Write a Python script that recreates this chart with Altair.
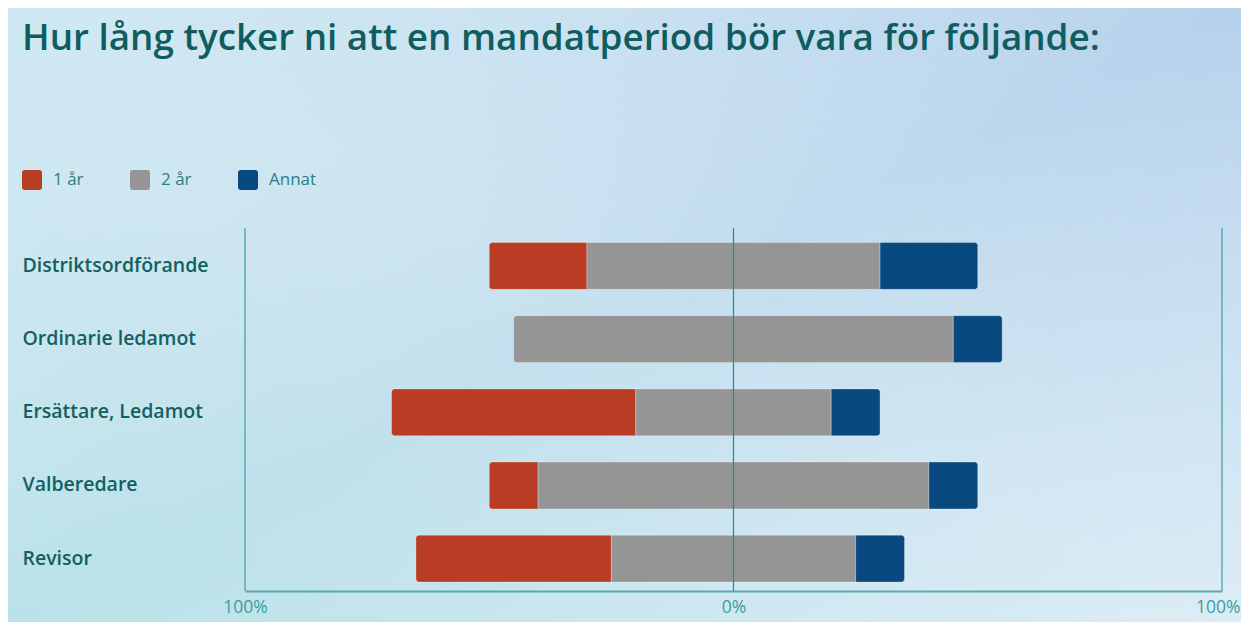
import altair as alt
import pandas as pd

TITLE = "Hur lång tycker ni att en mandatperiod bör vara för följande:"
categories = ["Distriktsordförande", "Ordinarie ledamot", "Ersättare, Ledamot", "Valberedare", "Revisor"]
series_names = ["1 år", "2 år", "Annat"]
one_year = [20, 0, 50, 10, 40]
two_year = [60, 90, 40, 80, 50]
other = [20, 10, 10, 10, 10]
series_colors = ["#b93c24", "#959595", "#084a80"]
tick_values = [-100, 0, 100]

FONT = "Open Sans"
W, H = 977, 363
PL, PT, PR, PB = 237, 220, 19, 31

rows = []
for i, cat in enumerate(categories):
    vals = [one_year[i], two_year[i], other[i]]
    start = -(vals[0] + vals[1] / 2)
    nonzero = [k for k, v in enumerate(vals) if v > 0]
    pos = start
    for k, v in enumerate(vals):
        if v > 0:
            part = "first" if k == nonzero[0] else ("last" if k == nonzero[-1] else "mid")
            rows.append({"kat": cat, "serie": series_names[k], "x0": pos, "x1": pos + v,
                         "part": part, "order": i})
        pos += v
df = pd.DataFrame(rows)

xscale = alt.Scale(domain=[-100, 100], nice=False, zero=False)
yscale = alt.Scale(domain=categories, paddingInner=0.36, paddingOuter=0.16, align=0.62)
cscale = alt.Scale(domain=series_names, range=series_colors)
rounded = "M -0.7 -1 L 0.7 -1 Q 1 -1 1 -0.7 L 1 0.7 Q 1 1 0.7 1 L -0.7 1 Q -1 1 -1 0.7 L -1 -0.7 Q -1 -1 -0.7 -1 Z"

legend = alt.Legend(
    title=None, orient="none", legendX=-223, legendY=-58, direction="horizontal",
    symbolType=rounded, symbolSize=400, symbolStrokeWidth=0, symbolOpacity=1,
    labelFont=FONT, labelFontSize=17, labelColor="#2a7f84", labelOffset=11,
    columnPadding=46, zindex=1,
)

xaxis = alt.Axis(
    values=tick_values, labelExpr="abs(datum.value) + '%'", title=None, grid=False,
    ticks=False, tickSize=0, domainColor="#5aaab0", domainWidth=2,
    labelColor="#3a9ea4", labelFont=FONT, labelFontSize=17.5, labelPadding=7,
    labelFlush=False, labelOverlap=False, zindex=1,
    labelAlign={"condition": {"test": "datum.value == 100", "value": "right"}, "value": "center"},
    labelOffset={"condition": {"test": "datum.value == 100", "value": 18}, "value": 0},
)
yaxis = alt.Axis(
    title=None, domain=False, ticks=False, tickSize=0, grid=False,
    labelAlign="left", labelPadding=223, labelFont=FONT, labelFontSize=19.5,
    labelFontWeight=600, labelColor="#13605f", labelLimit=300, zindex=1,
)

one = pd.DataFrame({"t": [TITLE]})
bg = alt.Chart(one).mark_rect(
    fill=alt.Gradient(gradient="linear", x1=1, y1=0, x2=0, y2=1,
                      stops=[alt.GradientStop(color="#b6d1ec", offset=0),
                             alt.GradientStop(color="#c6e0ef", offset=0.5),
                             alt.GradientStop(color="#b9e2e8", offset=1)])
).encode(x=alt.value(-PL), x2=alt.value(W + PR), y=alt.value(-PT), y2=alt.value(H + PB))
bg2 = alt.Chart(one).mark_rect(
    fill=alt.Gradient(gradient="linear", x1=0, y1=0, x2=1, y2=1,
                      stops=[alt.GradientStop(color="rgba(215,240,245,0.5)", offset=0),
                             alt.GradientStop(color="rgba(255,255,255,0)", offset=0.5),
                             alt.GradientStop(color="rgba(255,255,255,0.4)", offset=1)])
).encode(x=alt.value(-PL), x2=alt.value(W + PR), y=alt.value(-PT), y2=alt.value(H + PB))

title = alt.Chart(one).mark_text(
    align="left", baseline="alphabetic", font=FONT, fontSize=36.8, fontWeight=600,
    color="#0f5d5e"
).encode(text="t:N", x=alt.value(-223), y=alt.value(-178))

def bars(part, **corners):
    return alt.Chart(df).transform_filter(alt.datum.part == part).mark_bar(
        stroke="#ffffff", strokeOpacity=0.35, strokeWidth=0.8, **corners
    ).encode(
        x=alt.X("x0:Q", scale=xscale, axis=xaxis),
        x2="x1:Q",
        y=alt.Y("kat:N", scale=yscale, axis=yaxis, sort=categories),
        color=alt.Color("serie:N", scale=cscale, legend=legend),
    )

b_first = bars("first", cornerRadiusTopLeft=3, cornerRadiusBottomLeft=3)
b_mid = bars("mid")
b_last = bars("last", cornerRadiusTopRight=3, cornerRadiusBottomRight=3)

side = pd.DataFrame({"v": [-100, 100]})
mid = pd.DataFrame({"v": [0]})
side_rules = alt.Chart(side).mark_rule(color="#5aaab0", strokeWidth=1.5).encode(
    x=alt.X("v:Q", scale=xscale, axis=xaxis), y=alt.value(0), y2=alt.value(H))
mid_rule = alt.Chart(mid).mark_rule(color="#1f8b94", strokeWidth=1.2).encode(
    x=alt.X("v:Q", scale=xscale, axis=xaxis), y=alt.value(0), y2=alt.value(H))

chart = alt.layer(bg, bg2, title, side_rules, b_first, b_mid, b_last, mid_rule).properties(
    width=W, height=H,
    autosize=alt.AutoSizeParams(type="none"),
    padding={"left": PL, "top": PT, "right": PR, "bottom": PB},
    background="#ffffff",
).configure_view(stroke=None)

chart.save("out.html", embed_options={"renderer": "svg", "actions": False})
